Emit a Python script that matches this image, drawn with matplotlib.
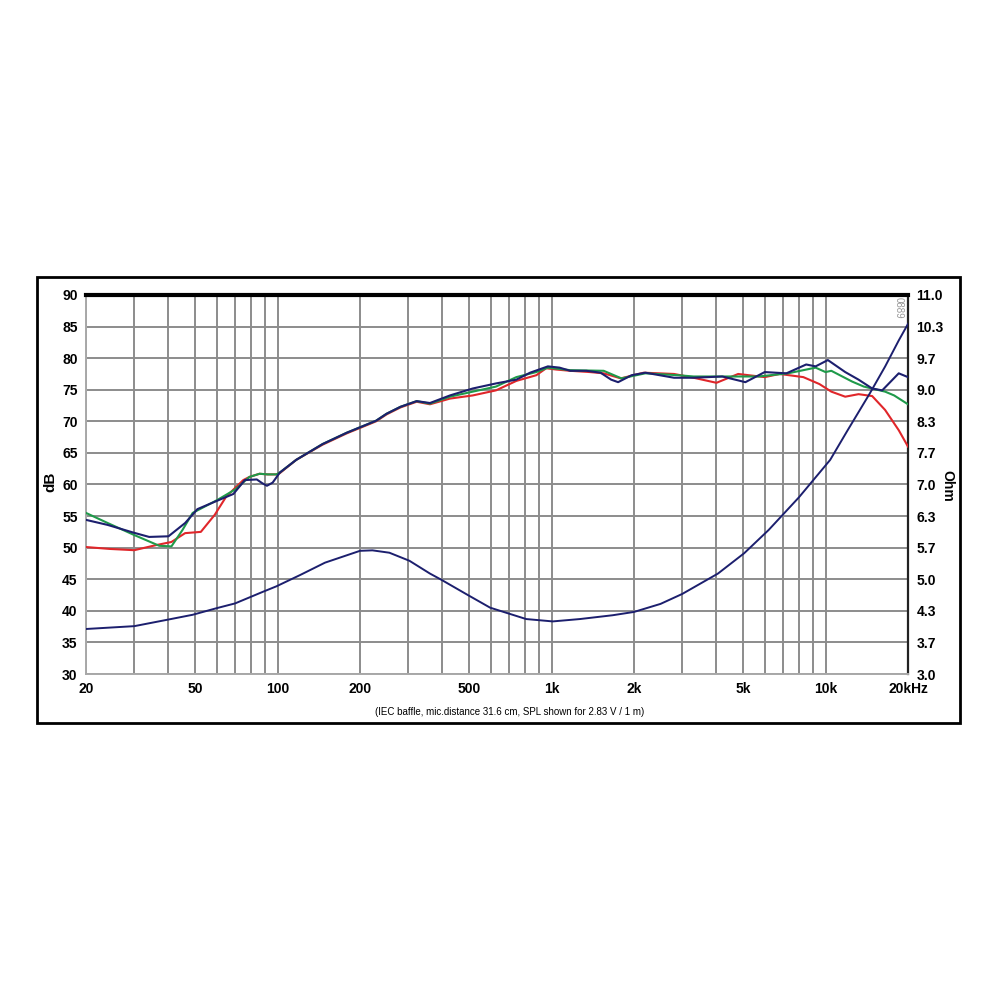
import matplotlib
matplotlib.use("Agg")
import matplotlib.pyplot as plt
from matplotlib.patches import Rectangle
from matplotlib.ticker import FixedLocator, NullLocator

plt.rcParams['font.family'] = ['Liberation Sans', 'DejaVu Sans']

# --- SPL curves (Hz, dB)
red_f = [20, 24.4, 30, 36, 41, 46, 52.5, 59, 65, 75, 79, 86, 92, 99, 102, 117, 146,
         179, 229, 250, 281, 322, 360, 426, 516, 627, 744, 880, 956, 1040, 1170, 1380,
         1550, 1790, 2170, 2800, 3300, 4000, 4800, 6000, 6800, 8300, 9500, 10500,
         11800, 13200, 14800, 16500, 18500, 20000]
red_db = [50.1, 49.8, 49.6, 50.4, 50.9, 52.3, 52.5, 55.2, 58.1, 60.7, 61.2, 61.7, 61.6,
          61.6, 61.8, 63.9, 66.3, 68.1, 70.0, 71.1, 72.2, 73.1, 72.7, 73.6, 74.1, 74.9,
          76.4, 77.3, 78.4, 78.2, 78.0, 77.8, 77.6, 76.8, 77.7, 77.5, 76.9, 76.1, 77.5,
          77.0, 77.5, 77.0, 75.9, 74.7, 73.9, 74.3, 74.0, 71.8, 68.6, 66.0]

green_f = [20, 24, 30, 37, 41, 45, 49, 60, 70, 79, 86, 92, 99, 102, 117, 146, 179, 229,
           250, 281, 322, 360, 426, 516, 627, 744, 880, 970, 1170, 1550, 1800, 2200,
           2900, 3300, 4200, 5700, 7300, 9200, 10000, 10500, 12500, 13800, 16500,
           17800, 20000]
green_db = [55.5, 53.9, 52.0, 50.3, 50.2, 52.8, 55.5, 57.5, 59.2, 61.2, 61.7, 61.6, 61.6,
            61.9, 63.9, 66.4, 68.2, 70.1, 71.2, 72.3, 73.2, 72.8, 73.9, 74.7, 75.5, 77.0,
            77.8, 78.5, 78.1, 78.0, 76.8, 77.6, 77.3, 77.1, 77.1, 77.1, 77.6, 78.5, 77.8,
            78.0, 76.3, 75.5, 74.7, 74.1, 72.7]

navy_f = [20, 24, 29.7, 34, 40, 46, 51, 60, 69, 76, 84, 88, 91.5, 96, 102, 117, 146,
          179, 229, 250, 281, 322, 360, 426, 516, 627, 744, 835, 970, 1070, 1170, 1340,
          1510, 1650, 1750, 1960, 2200, 2800, 3300, 4200, 5100, 6000, 7200, 8500, 9200,
          10200, 11800, 13200, 14800, 16100, 18500, 20000]
navy_db = [54.4, 53.6, 52.4, 51.7, 51.8, 53.9, 56.1, 57.4, 58.5, 60.7, 60.8, 60.2, 59.8,
           60.3, 61.9, 63.9, 66.4, 68.2, 70.1, 71.2, 72.3, 73.2, 72.9, 74.1, 75.2, 76.0,
           76.6, 77.7, 78.7, 78.5, 78.0, 78.0, 77.7, 76.6, 76.2, 77.3, 77.7, 76.9, 76.9,
           77.1, 76.2, 77.8, 77.6, 79.0, 78.7, 79.7, 77.8, 76.6, 75.2, 74.9, 77.6, 77.0]

# --- impedance (Hz, Ohm)
imp_f = [20, 30, 40, 49, 60, 70, 88, 99, 121, 149, 200, 222, 256, 303, 360, 396, 494,
         597, 808, 1010, 1270, 1670, 2000, 2500, 3000, 4050, 5050, 6200, 8000, 10400,
         12000, 14500, 16500, 18500, 20000]
imp_ohm = [3.95, 4.01, 4.15, 4.25, 4.39, 4.49, 4.73, 4.85, 5.09, 5.35, 5.60, 5.61, 5.56,
           5.39, 5.12, 4.99, 4.67, 4.40, 4.16, 4.11, 4.16, 4.24, 4.31, 4.48, 4.69, 5.12,
           5.55, 6.04, 6.73, 7.52, 8.13, 8.92, 9.49, 10.04, 10.39]

grid_freqs = [20, 30, 40, 50, 60, 70, 80, 90, 100, 200, 300, 400, 500, 600, 700, 800,
              900, 1000, 2000, 3000, 4000, 5000, 6000, 7000, 8000, 9000, 10000, 20000]
freq_labels = {20: '20', 50: '50', 100: '100', 200: '200', 500: '500', 1000: '1k',
               2000: '2k', 5000: '5k', 10000: '10k', 20000: '20kHz'}
db_ticks = [30, 35, 40, 45, 50, 55, 60, 65, 70, 75, 80, 85, 90]
ohm_ticks = [3.0, 3 + 2/3, 3 + 4/3, 5.0, 5 + 2/3, 5 + 4/3, 7.0, 7 + 2/3, 7 + 4/3, 9.0,
             9 + 2/3, 9 + 4/3, 11.0]
ohm_labels = ['3.0', '3.7', '4.3', '5.0', '5.7', '6.3', '7.0', '7.7', '8.3', '9.0',
              '9.7', '10.3', '11.0']

RED, GREEN, NAVY = '#e0262a', '#1f9a4a', '#1c1f6e'
GRID = '#8c8c8c'

fig = plt.figure(figsize=(10, 10), dpi=100)
fig.patches.append(Rectangle((0.037, 0.277), 0.923, 0.446, transform=fig.transFigure,
                             fill=False, edgecolor='black', linewidth=2))

ax = fig.add_axes([0.086, 0.326, 0.822, 0.379])
ax.set_xscale('log')
ax.set_xlim(20, 20000)
ax.set_ylim(30, 90)

ax.xaxis.set_major_locator(FixedLocator(grid_freqs))
ax.xaxis.set_minor_locator(NullLocator())
ax.set_xticklabels([freq_labels.get(f, '') for f in grid_freqs])
ax.set_yticks(db_ticks)
ax.grid(True, color=GRID, linewidth=1.4)
ax.tick_params(length=0, labelsize=10, pad=6)
for lab in ax.get_xticklabels() + ax.get_yticklabels():
    lab.set_fontweight('bold')

for s in ['left', 'bottom']:
    ax.spines[s].set_color('#a8a8a8')
    ax.spines[s].set_linewidth(1.4)
ax.spines['top'].set_color('black')
ax.spines['top'].set_linewidth(3)
ax.spines['right'].set_color('#222222')
ax.spines['right'].set_linewidth(1.6)

ax.plot(red_f, red_db, color=RED, linewidth=1.5, zorder=3)
ax.plot(green_f, green_db, color=GREEN, linewidth=1.5, zorder=4)
ax.plot(navy_f, navy_db, color=NAVY, linewidth=1.5, zorder=5)

ax2 = ax.twinx()
ax2.set_ylim(3, 11)
ax2.set_yticks(ohm_ticks)
ax2.set_yticklabels(ohm_labels, fontweight='bold')
ax2.tick_params(length=0, labelsize=10, pad=6)
for s in ax2.spines.values():
    s.set_visible(False)
ax2.plot(imp_f, imp_ohm, color=NAVY, linewidth=1.4)

fig.text(0.050, 0.518, 'dB', rotation=90, fontsize=11, fontweight='bold',
         ha='center', va='center')
fig.text(0.947, 0.514, 'Ohm', rotation=-90, fontsize=10, fontweight='bold',
         ha='center', va='center')

ax.text(0.988, 0.995, '0889', transform=ax.transAxes, rotation=-90, fontsize=7,
        color='#999999', ha='center', va='top')

fig.text(0.51, 0.288, '(IEC baffle, mic.distance 31.6 cm, SPL shown for 2.83 V / 1 m)',
         ha='center', va='center', fontsize=7)

fig.savefig('out.png', dpi=100)
